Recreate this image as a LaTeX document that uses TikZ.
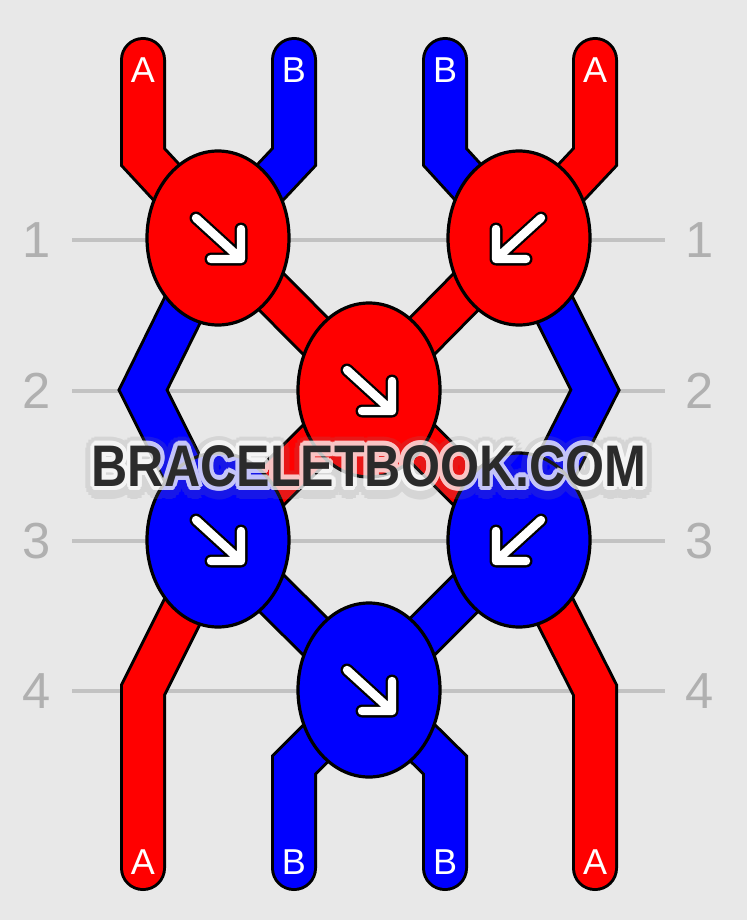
\documentclass[tikz,border=0pt]{standalone}
\usepackage{fontspec}
\setmainfont{Liberation Sans}
\usetikzlibrary{shapes.geometric}
\definecolor{bg}{HTML}{E8E8E8}
\definecolor{gridgray}{HTML}{C2C2C2}
\definecolor{labgray}{HTML}{B0B0B0}
\definecolor{wmdark}{HTML}{2B2B2B}
\definecolor{sred}{HTML}{FF0000}
\definecolor{sblue}{HTML}{0000FF}
\begin{document}
\begin{tikzpicture}[x=0.75pt,y=-0.75pt,
  outl/.style={line width=34.5pt, draw=black, line cap=round, line join=miter},
  redstr/.style={line width=30pt, draw=sred, line cap=round, line join=miter},
  bluestr/.style={line width=30pt, draw=sblue, line cap=round, line join=miter},
  knot/.style={ellipse, draw=black, line width=2.4pt, minimum width=106.5pt, minimum height=130.5pt, inner sep=0pt},
  gridline/.style={draw=gridgray, line width=2.3pt},
  rowlab/.style={text=labgray, font=\fontsize{38}{38}\selectfont, inner sep=0pt},
  strlab/.style={text=white, font=\fontsize{27}{27}\selectfont, inner sep=0pt},
  arrowout/.style={draw=black, line width=9.75pt, line cap=round, line join=round},
  arrowin/.style={draw=white, line width=6.3pt, line cap=round, line join=round},
  fwdarrow/.pic={
    \draw[arrowout] (-22,-20) -- (23,21) (-7,21) -- (23,21) -- (23,-9);
    \draw[arrowin] (-22,-20) -- (23,21) (-7,21) -- (23,21) -- (23,-9);
  },
  bwdarrow/.pic={
    \draw[arrowout] (22,-20) -- (-23,21) (7,21) -- (-23,21) -- (-23,-9);
    \draw[arrowin] (22,-20) -- (-23,21) (7,21) -- (-23,21) -- (-23,-9);
  },
  wm/.style={font=\bfseries\fontsize{44}{44}\selectfont, xscale=0.855, transform shape, inner sep=0pt}
]
% background
\path[use as bounding box, fill=bg] (0,0) rectangle (747,920);

% grid lines and row labels
\foreach \r/\yy in {1/240,2/391,3/541,4/691}{
  \coordinate (gl\r) at (72,\yy);
  \coordinate (gr\r) at (665,\yy);
  \draw[gridline] (gl\r) -- (gr\r);
  \node[rowlab] (lab\r) at (37,\yy) {\r};
  \node[rowlab] (rab\r) at (700,\yy) {\r};
}

% knot centres
\coordinate (c1) at (218,238);
\coordinate (c2) at (519,238);
\coordinate (c3) at (369,390);
\coordinate (c4) at (218,540);
\coordinate (c5) at (519,540);
\coordinate (c6) at (369,690);

% strand ends and bends
\coordinate (t1) at (143,60);  \coordinate (tb1) at (143,157);
\coordinate (t2) at (294,60);  \coordinate (tb2) at (294,157);
\coordinate (t3) at (445,60);  \coordinate (tb3) at (445,157);
\coordinate (t4) at (595,60);  \coordinate (tb4) at (595,157);
\coordinate (ml) at (143,390); \coordinate (mr) at (595,390);
\coordinate (bl) at (143,690); \coordinate (br) at (595,690);
\coordinate (bb2) at (294,765); \coordinate (bb3) at (445,765);
\coordinate (b1) at (143,868); \coordinate (b2) at (294,868);
\coordinate (b3) at (445,868); \coordinate (b4) at (595,868);

% outlines
\draw[outl] (t1) -- (tb1) -- (c1);
\draw[outl] (t2) -- (tb2) -- (c1);
\draw[outl] (t3) -- (tb3) -- (c2);
\draw[outl] (t4) -- (tb4) -- (c2);
\draw[outl] (c1) -- (ml) -- (c4);
\draw[outl] (c2) -- (mr) -- (c5);
\draw[outl] (c1) -- (c3) -- (c2);
\draw[outl] (c4) -- (c3) -- (c5);
\draw[outl] (c4) -- (c6) -- (c5);
\draw[outl] (c4) -- (bl) -- (b1);
\draw[outl] (c5) -- (br) -- (b4);
\draw[outl] (c6) -- (bb2) -- (b2);
\draw[outl] (c6) -- (bb3) -- (b3);
% coloured strands
\draw[redstr] (t1) -- (tb1) -- (c1);
\draw[bluestr] (t2) -- (tb2) -- (c1);
\draw[bluestr] (t3) -- (tb3) -- (c2);
\draw[redstr] (t4) -- (tb4) -- (c2);
\draw[bluestr] (c1) -- (ml) -- (c4);
\draw[bluestr] (c2) -- (mr) -- (c5);
\draw[redstr] (c1) -- (c3) -- (c2);
\draw[redstr] (c4) -- (c3) -- (c5);
\draw[bluestr] (c4) -- (c6) -- (c5);
\draw[redstr] (c4) -- (bl) -- (b1);
\draw[redstr] (c5) -- (br) -- (b4);
\draw[bluestr] (c6) -- (bb2) -- (b2);
\draw[bluestr] (c6) -- (bb3) -- (b3);

% strand labels
\node[strlab] (la1) at (143,70) {A};
\node[strlab] (la2) at (294,70) {B};
\node[strlab] (la3) at (445,70) {B};
\node[strlab] (la4) at (595,70) {A};
\node[strlab] (lb1) at (143,862) {A};
\node[strlab] (lb2) at (294,862) {B};
\node[strlab] (lb3) at (445,862) {B};
\node[strlab] (lb4) at (595,862) {A};

% knots
\node[knot, fill=sred] (k1) at (c1) {};
\node[knot, fill=sred] (k2) at (c2) {};
\node[knot, fill=sred] (k3) at (c3) {};
\node[knot, fill=sblue] (k4) at (c4) {};
\node[knot, fill=sblue] (k5) at (c5) {};
\node[knot, fill=sblue] (k6) at (c6) {};

\pic at (k1) {fwdarrow};
\pic at (k2) {bwdarrow};
\pic at (k3) {fwdarrow};
\pic at (k4) {fwdarrow};
\pic at (k5) {bwdarrow};
\pic at (k6) {fwdarrow};

% watermark
\begin{scope}[transparency group, opacity=0.18]
  \foreach \i in {1,...,16}{
    \node[wm, text=gray, shift={(\i*22.5:11)}] (wms\i) at (369,468) {BRACELETBOOK.COM};
  }
\end{scope}
\begin{scope}[transparency group, opacity=0.75]
  \foreach \i in {1,...,16}{
    \node[wm, text=white, shift={(\i*22.5:4.5)}] (wmo\i) at (369,466) {BRACELETBOOK.COM};
  }
\end{scope}
\node[wm, text=wmdark] (wm) at (369,466) {BRACELETBOOK.COM};
\end{tikzpicture}
\end{document}
